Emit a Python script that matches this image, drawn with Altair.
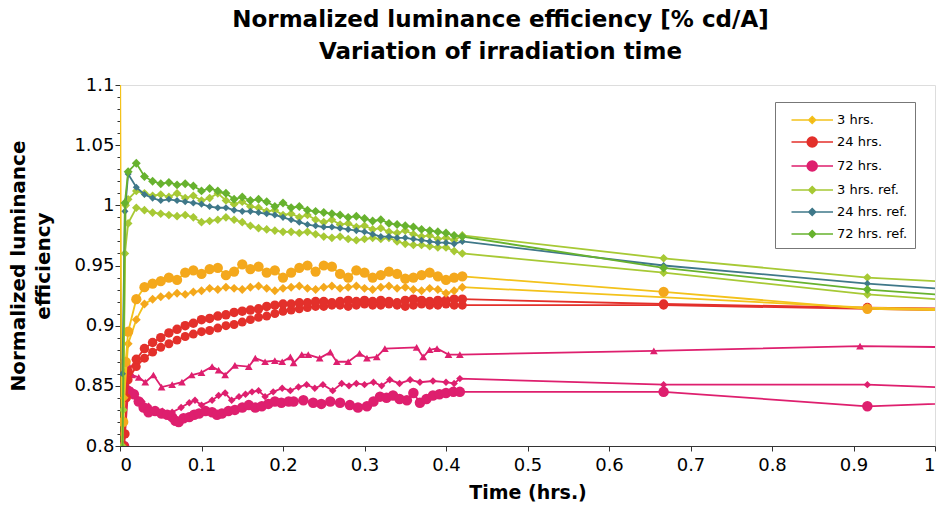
import altair as alt
import pandas as pd

FONT = "DejaVu Sans"

# ---------------- data ----------------
series_names = ["3 hrs.", "24 hrs.", "72 hrs.", "3 hrs. ref.", "24 hrs. ref.", "72 hrs. ref."]

x_ticks = [0, 0.1, 0.2, 0.3, 0.4, 0.5, 0.6, 0.7, 0.8, 0.9, 1.0]
y_ticks = [0.80, 0.81, 0.82, 0.83, 0.84, 0.85, 0.86, 0.87, 0.88, 0.89, 0.90,
           0.91, 0.92, 0.93, 0.94, 0.95, 0.96, 0.97, 0.98, 0.99, 1.00,
           1.01, 1.02, 1.03, 1.04, 1.05, 1.06, 1.07, 1.08, 1.09, 1.10]

# common sampling grid of the dense early part (hrs.)
t_dense = [0.01, 0.02, 0.03, 0.04, 0.05, 0.06, 0.07, 0.08, 0.09, 0.10,
           0.11, 0.12, 0.13, 0.14, 0.15, 0.16, 0.17, 0.18, 0.19, 0.20,
           0.21, 0.22, 0.23, 0.24, 0.25, 0.26, 0.27, 0.28, 0.29, 0.30,
           0.31, 0.32, 0.33, 0.34, 0.35, 0.36, 0.37, 0.38, 0.39, 0.40,
           0.41, 0.42]

# 72 hrs. ref. (top green)
g72_head_t = [0.003, 0.006]
g72_head_v = [0.79, 1.002]
g72_v = [1.028, 1.035, 1.024, 1.020, 1.018, 1.019, 1.017, 1.018, 1.016, 1.012,
         1.014, 1.012, 1.010, 1.005, 1.007, 1.004, 1.005, 1.003, 0.999, 1.002,
         0.998, 0.999, 0.996, 0.995, 0.994, 0.993, 0.992, 0.990, 0.991, 0.989,
         0.987, 0.988, 0.985, 0.984, 0.983, 0.982, 0.980, 0.979, 0.978, 0.977,
         0.975, 0.974]
g72_tail_t = [0.667, 0.917, 1.167]
g72_tail_v = [0.948, 0.930, 0.918]

# 24 hrs. ref. (teal)
t24_head_t = [0.003, 0.006]
t24_head_v = [0.86, 0.995]
t24_v = [1.026, 1.015, 1.009, 1.006, 1.004, 1.005, 1.004, 1.003, 1.002, 1.001,
         0.999, 0.998, 0.998, 0.996, 0.995, 0.995, 0.994, 0.993, 0.992, 0.990,
         0.988, 0.986, 0.984, 0.983, 0.982, 0.982, 0.981, 0.980, 0.979, 0.978,
         0.976, 0.974, 0.974, 0.973, 0.973, 0.972, 0.971, 0.970, 0.969, 0.969,
         0.968, 0.970]
t24_tail_t = [0.667, 0.917, 1.167]
t24_tail_v = [0.950, 0.935, 0.923]

# 3 hrs. ref. (yellow-green, upper run)
y3b_head_t = [0.004, 0.007]
y3b_head_v = [0.83, 1.000]
y3b_v = [1.005, 1.012, 1.010, 1.008, 1.009, 1.007, 1.010, 1.006, 1.008, 1.004,
         1.006, 1.010, 1.004, 1.001, 1.003, 0.999, 0.998, 0.995, 0.996, 0.992,
         0.993, 0.990, 0.992, 0.988, 0.986, 0.988, 0.984, 0.985, 0.982, 0.983,
         0.980, 0.981, 0.978, 0.977, 0.979, 0.976, 0.974, 0.975, 0.972, 0.973,
         0.971, 0.975]
y3b_tail_t = [0.667, 0.917, 1.167]
y3b_tail_v = [0.956, 0.940, 0.931]

# 3 hrs. ref. (yellow-green, lower run)
y3a_head_t = [0.003, 0.006]
y3a_head_v = [0.80, 0.960]
y3a_v = [0.985, 0.998, 0.996, 0.994, 0.993, 0.992, 0.991, 0.992, 0.990, 0.986,
         0.987, 0.988, 0.990, 0.988, 0.986, 0.983, 0.981, 0.980, 0.979, 0.978,
         0.978, 0.977, 0.978, 0.976, 0.974, 0.973, 0.974, 0.972, 0.971, 0.972,
         0.973, 0.972, 0.973, 0.970, 0.968, 0.967, 0.967, 0.966, 0.965, 0.965,
         0.962, 0.960]
y3a_tail_t = [0.667, 0.917, 1.167]
y3a_tail_v = [0.944, 0.926, 0.914]

# 3 hrs. (orange, upper run)
o3a_head_t = [0.004, 0.007]
o3a_head_v = [0.82, 0.870]
o3a_v = [0.895, 0.922, 0.932, 0.935, 0.937, 0.940, 0.938, 0.944, 0.946, 0.943,
         0.947, 0.948, 0.942, 0.945, 0.951, 0.947, 0.949, 0.944, 0.946, 0.940,
         0.944, 0.948, 0.950, 0.945, 0.950, 0.949, 0.943, 0.940, 0.946, 0.944,
         0.940, 0.942, 0.945, 0.943, 0.939, 0.940, 0.942, 0.944, 0.941, 0.938,
         0.940, 0.941]
o3a_tail_t = [0.667, 0.917, 1.167]
o3a_tail_v = [0.928, 0.914, 0.911]

# 3 hrs. (orange, lower run)
o3b_head_t = [0.0, 0.002, 0.005]
o3b_head_v = [1.15, 0.79, 0.840]
o3b_v = [0.885, 0.905, 0.918, 0.922, 0.924, 0.925, 0.927, 0.926, 0.928, 0.929,
         0.931, 0.930, 0.932, 0.931, 0.930, 0.932, 0.933, 0.931, 0.929, 0.931,
         0.932, 0.933, 0.931, 0.930, 0.932, 0.933, 0.931, 0.932, 0.933, 0.931,
         0.930, 0.932, 0.933, 0.931, 0.932, 0.930, 0.929, 0.931, 0.930, 0.927,
         0.929, 0.932]
o3b_tail_t = [0.917, 1.167]
o3b_tail_v = [0.915, 0.912]

# 24 hrs. (red, upper run)
r24a_head_t = [0.006]
r24a_head_v = [0.81]
r24a_v = [0.862, 0.872, 0.881, 0.886, 0.890, 0.894, 0.897, 0.900, 0.902, 0.905,
          0.906, 0.908, 0.909, 0.911, 0.912, 0.913, 0.914, 0.916, 0.917, 0.918,
          0.918, 0.919, 0.919, 0.920, 0.920, 0.919, 0.920, 0.921, 0.920, 0.921,
          0.920, 0.921, 0.920, 0.919, 0.921, 0.922, 0.921, 0.920, 0.921, 0.921,
          0.922, 0.922]
r24a_tail_t = [0.667, 0.917, 1.167]
r24a_tail_v = [0.918, 0.915, 0.913]

# 24 hrs. (red, lower run)
r24b_head_t = [0.005, 0.008]
r24b_head_v = [0.80, 0.84]
r24b_v = [0.855, 0.866, 0.873, 0.878, 0.882, 0.885, 0.888, 0.891, 0.893, 0.895,
          0.896, 0.898, 0.900, 0.901, 0.903, 0.905, 0.907, 0.908, 0.910, 0.912,
          0.913, 0.914, 0.915, 0.916, 0.916, 0.917, 0.917, 0.916, 0.917, 0.918,
          0.917, 0.917, 0.918, 0.917, 0.916, 0.917, 0.918, 0.917, 0.917, 0.918,
          0.917, 0.917]
r24b_tail_t = [0.667, 1.167]
r24b_tail_v = [0.917, 0.911]

# 72 hrs. (magenta, triangles)
p72a_t = [0.006, 0.010, 0.015, 0.023, 0.031, 0.041, 0.051, 0.064, 0.076, 0.088,
          0.100, 0.113, 0.121, 0.129, 0.141, 0.158, 0.166, 0.178, 0.190, 0.199,
          0.209, 0.213, 0.223, 0.231, 0.245, 0.258, 0.266, 0.280, 0.294, 0.303,
          0.315, 0.325, 0.364, 0.372, 0.380, 0.389, 0.403, 0.417, 0.655, 0.908,
          1.158]
p72a_v = [0.845, 0.868, 0.859, 0.857, 0.853, 0.859, 0.849, 0.851, 0.853, 0.859,
          0.861, 0.866, 0.863, 0.859, 0.867, 0.866, 0.873, 0.870, 0.871, 0.870,
          0.874, 0.869, 0.876, 0.876, 0.873, 0.878, 0.870, 0.870, 0.877, 0.873,
          0.874, 0.881, 0.882, 0.874, 0.880, 0.881, 0.876, 0.876, 0.879, 0.883,
          0.881]

# 72 hrs. (magenta, diamonds)
p72b_t = [0.008, 0.015, 0.027, 0.035, 0.043, 0.052, 0.064, 0.075, 0.085, 0.092,
          0.100, 0.113, 0.121, 0.129, 0.137, 0.146, 0.154, 0.162, 0.170, 0.178,
          0.188, 0.199, 0.209, 0.219, 0.229, 0.239, 0.249, 0.261, 0.272, 0.281,
          0.290, 0.300, 0.311, 0.321, 0.331, 0.343, 0.356, 0.368, 0.384, 0.400,
          0.410, 0.417, 0.667, 0.917, 1.167]
p72b_v = [0.852, 0.846, 0.837, 0.833, 0.830, 0.829, 0.828, 0.832, 0.836, 0.838,
          0.834, 0.838, 0.842, 0.844, 0.838, 0.841, 0.843, 0.845, 0.846, 0.841,
          0.845, 0.848, 0.846, 0.849, 0.851, 0.848, 0.851, 0.846, 0.852, 0.850,
          0.852, 0.851, 0.853, 0.850, 0.855, 0.852, 0.855, 0.853, 0.854, 0.853,
          0.852, 0.856, 0.851, 0.851, 0.845]

# 72 hrs. (magenta, large circles)
p72c_t = [0.005, 0.010, 0.017, 0.023, 0.029, 0.035, 0.043, 0.051, 0.058, 0.064,
          0.068, 0.072, 0.078, 0.085, 0.091, 0.097, 0.105, 0.113, 0.119, 0.125,
          0.133, 0.141, 0.150, 0.158, 0.166, 0.174, 0.182, 0.190, 0.198, 0.207,
          0.213, 0.225, 0.237, 0.247, 0.258, 0.270, 0.282, 0.292, 0.303, 0.311,
          0.319, 0.327, 0.335, 0.343, 0.352, 0.360, 0.368, 0.376, 0.384, 0.392,
          0.400, 0.409, 0.417, 0.667, 0.917, 1.167]
p72c_v = [0.800, 0.846, 0.843, 0.837, 0.832, 0.828, 0.829, 0.827, 0.826, 0.824,
          0.821, 0.820, 0.823, 0.824, 0.826, 0.827, 0.829, 0.828, 0.826, 0.827,
          0.829, 0.830, 0.832, 0.834, 0.832, 0.833, 0.835, 0.837, 0.836, 0.837,
          0.837, 0.838, 0.836, 0.835, 0.837, 0.836, 0.834, 0.832, 0.833, 0.837,
          0.841, 0.840, 0.842, 0.839, 0.838, 0.844, 0.836, 0.839, 0.842, 0.843,
          0.844, 0.845, 0.845, 0.845, 0.833, 0.839]

# ---------------- styles ----------------
marker_colors = ["#F4A81C", "#E3302B", "#DE1F6E", "#A7C935", "#3F7889", "#67B22E"]
line_colors = ["#F3C21B", "#E3302B", "#DE1F6E", "#A7C935", "#3F7889", "#67B22E"]
color_of = dict(zip(series_names, marker_colors))
line_of = dict(zip(series_names, line_colors))

# legend symbols: a line with the marker in its middle (path units, scaled by sqrt(size)/2)
DIAMOND = "M-1.05,0H3.1M1.02,-0.34L1.36,0L1.02,0.34L0.68,0Z"
CIRCLE = "M-1.05,0H3.1M1.52,0A0.5,0.5,0,1,1,0.52,0A0.5,0.5,0,1,1,1.52,0Z"
legend_paths = [DIAMOND, CIRCLE, CIRCLE, DIAMOND, DIAMOND, DIAMOND]


def build(head_t, head_v, dense_v, tail_t, tail_v):
    return pd.DataFrame({"time": head_t + t_dense + tail_t,
                         "value": head_v + dense_v + tail_v})


traces = [
    # (data frame, series, marker shape, marker size)
    (pd.DataFrame({"time": p72a_t, "value": p72a_v}), "72 hrs.", "triangle-up", 60),
    (pd.DataFrame({"time": p72b_t, "value": p72b_v}), "72 hrs.", "diamond", 55),
    (pd.DataFrame({"time": p72c_t, "value": p72c_v}), "72 hrs.", "circle", 110),
    (build(r24b_head_t, r24b_head_v, r24b_v, r24b_tail_t, r24b_tail_v), "24 hrs.", "circle", 80),
    (build(r24a_head_t, r24a_head_v, r24a_v, r24a_tail_t, r24a_tail_v), "24 hrs.", "circle", 90),
    (build(o3b_head_t, o3b_head_v, o3b_v, o3b_tail_t, o3b_tail_v), "3 hrs.", "diamond", 80),
    (build(o3a_head_t, o3a_head_v, o3a_v, o3a_tail_t, o3a_tail_v), "3 hrs.", "circle", 105),
    (build(y3a_head_t, y3a_head_v, y3a_v, y3a_tail_t, y3a_tail_v), "3 hrs. ref.", "diamond", 75),
    (build(y3b_head_t, y3b_head_v, y3b_v, y3b_tail_t, y3b_tail_v), "3 hrs. ref.", "diamond", 75),
    (build(t24_head_t, t24_head_v, t24_v, t24_tail_t, t24_tail_v), "24 hrs. ref.", "diamond", 50),
    (build(g72_head_t, g72_head_v, g72_v, g72_tail_t, g72_tail_v), "72 hrs. ref.", "diamond", 80),
]

x_scale = alt.Scale(domain=[0, 1], nice=False, zero=False)
y_scale = alt.Scale(domain=[0.8, 1.1], nice=False, zero=False)

major = "abs(datum.value * 20 - round(datum.value * 20)) < 0.001"
x_axis = alt.Axis(values=x_ticks, format="~g", title="Time (hrs.)", grid=False,
                  labelFont=FONT, labelFontSize=18, labelColor="black", labelPadding=5,
                  tickSize=5, tickColor="#333", domainColor="#333",
                  titleFont=FONT, titleFontSize=19, titleFontWeight="bold", titleColor="black",
                  titlePadding=9)
y_axis = alt.Axis(values=y_ticks, format="~g", grid=False,
                  labelExpr=f"{major} ? datum.label : ''",
                  tickSize={"condition": {"test": major, "value": 5}, "value": 3},
                  labelFont=FONT, labelFontSize=18, labelColor="black", labelPadding=1,
                  tickColor="#333", domainColor="#333",
                  title=["Normalized luminance", "efficiency"],
                  titleFont=FONT, titleFontSize=20, titleFontWeight="bold", titleColor="black",
                  titlePadding=20, titleLineHeight=25)

X = alt.X("time:Q", scale=x_scale, axis=x_axis)
Y = alt.Y("value:Q", scale=y_scale, axis=y_axis)

layers = []
for df, series, shape, size in traces:
    base = alt.Chart(df)
    layers.append(base.mark_line(color=line_of[series], strokeWidth=1.8, clip=True)
                  .encode(x=X, y=Y))
    layers.append(base.mark_point(shape=shape, size=size, filled=True, opacity=1,
                                  color=color_of[series], clip=True)
                  .encode(x=X, y=Y))

leg = alt.Legend(title=None, orient="none", legendX=655, legendY=17,
                 symbolSize=400, symbolStrokeWidth=1.6, symbolOffset=9,
                 labelFont=FONT, labelFontSize=13, labelColor="black", labelOffset=24,
                 rowPadding=4, padding=7, strokeColor="#777", fillColor="white",
                 labelExpr="datum.label + '   '")

legend_layer = alt.Chart(pd.DataFrame({"series": series_names})).mark_point(
    filled=True, opacity=1).encode(
    fill=alt.Fill("series:N", scale=alt.Scale(domain=series_names, range=marker_colors), legend=leg),
    stroke=alt.Stroke("series:N", scale=alt.Scale(domain=series_names, range=line_colors), legend=leg),
    shape=alt.Shape("series:N", scale=alt.Scale(domain=series_names, range=legend_paths), legend=leg),
).transform_filter("false")

chart = alt.layer(*layers, legend_layer).properties(
    width=815, height=361,
    title=alt.Title(["Normalized luminance efficiency [% cd/A]", "Variation of irradiation time"],
                    font=FONT, fontSize=23, fontWeight="bold", color="black",
                    anchor="middle", dx=-27, offset=12, lineHeight=32),
    autosize=alt.AutoSizeParams(type="none"),
    padding={"left": 120, "top": 85, "right": 5, "bottom": 65},
).configure_view(stroke="#999", strokeWidth=1).configure(background="white")

chart.save("out.html", embed_options={"renderer": "svg", "actions": False})
